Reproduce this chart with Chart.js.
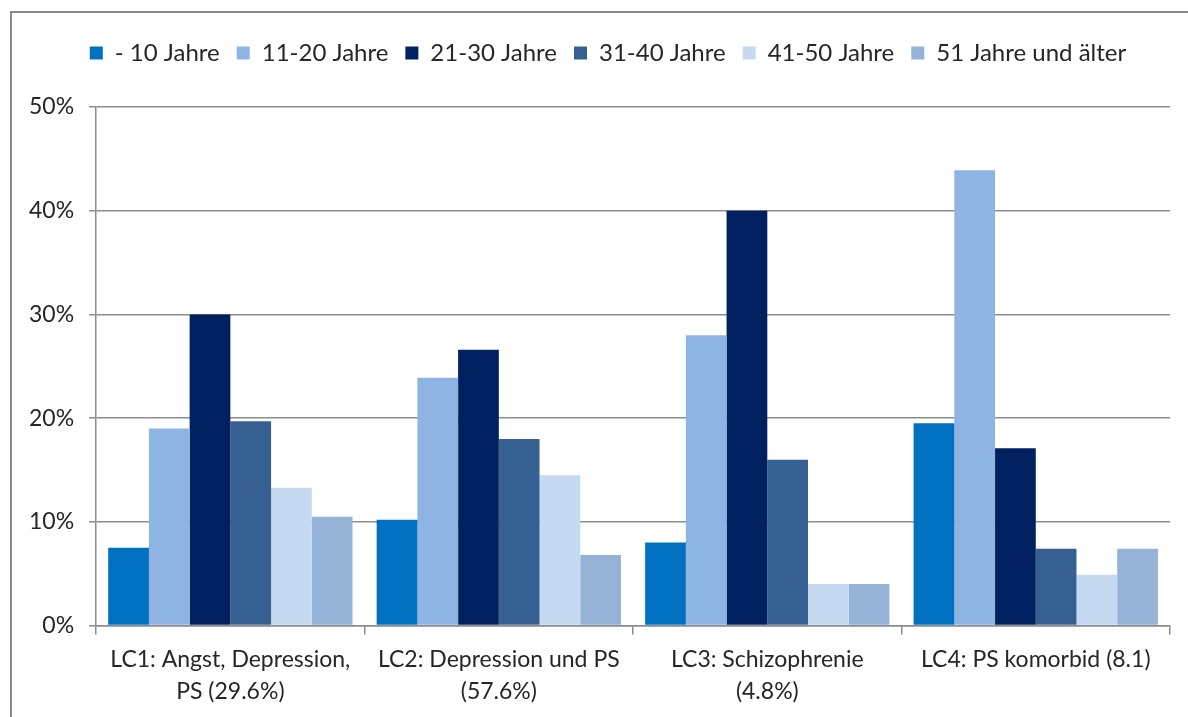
<!DOCTYPE html>
<html lang="de">
<head>
  <meta charset="UTF-8" />
  <title>Altersverteilung nach Klassen</title>
  <script src="https://cdn.jsdelivr.net/npm/chart.js"></script>
  <style>
    html, body { margin: 0; padding: 0; background: #fff; overflow: hidden; }
    #frame { position: absolute; left: 10px; top: 11px; width: 1200px; height: 720px; border: 2px solid #8a8a8a; pointer-events: none; }
    #wrap { position: absolute; left: 0; top: 0; width: 1188px; height: 717px; }
  </style>
</head>
<body>
  <div id="wrap"><canvas id="myChart" width="1188" height="717"></canvas></div>
  <div id="frame"></div>

  <script>
    const categories = [
      ['LC1: Angst, Depression,', 'PS (29.6%)'],
      ['LC2: Depression und PS', '(57.6%)'],
      ['LC3: Schizophrenie', '(4.8%)'],
      'LC4: PS komorbid (8.1)'
    ];
    const seriesNames = ['- 10 Jahre', '11-20 Jahre', '21-30 Jahre', '31-40 Jahre', '41-50 Jahre', '51 Jahre und älter'];
    const seriesColors = ['#0070C0', '#8DB4E2', '#002060', '#366092', '#C5D9F1', '#95B3D7'];

    // Prozentwerte je Altersgruppe (LC1..LC4)
    const bis10     = [7.5, 10.2, 8.0, 19.5];
    const j11bis20  = [19.0, 23.9, 28.0, 43.9];
    const j21bis30  = [30.0, 26.6, 40.0, 17.1];
    const j31bis40  = [19.7, 18.0, 16.0, 7.4];
    const j41bis50  = [13.3, 14.5, 4.0, 4.9];
    const ab51      = [10.5, 6.8, 4.0, 7.4];
    const seriesValues = [bis10, j11bis20, j21bis30, j31bis40, j41bis50, ab51];

    const fontFamily = 'Lato, "Liberation Sans", sans-serif';
    const textColor = '#262626';
    const gridColor = '#8c8c8c';

    const datasets = seriesNames.map((name, i) => ({
      label: name,
      data: seriesValues[i],
      backgroundColor: seriesColors[i],
      borderWidth: 0,
      categoryPercentage: 0.91,
      barPercentage: 1.0
    }));

    // mehr Abstand unter der Legende, Legende etwas nach rechts
    const legendTweak = {
      id: 'legendTweak',
      beforeInit(chart) {
        const lg = chart.legend;
        const fit = lg.fit;
        lg.fit = function () {
          fit.call(lg);
          this.height += 32;
        };
        const draw = lg.draw;
        lg.draw = function () {
          const ctx = chart.ctx;
          ctx.save();
          ctx.translate(16, 0);
          draw.apply(lg, arguments);
          ctx.restore();
        };
      }
    };

    new Chart(document.getElementById('myChart').getContext('2d'), {
      type: 'bar',
      data: { labels: categories, datasets: datasets },
      plugins: [legendTweak],
      options: {
        responsive: false,
        animation: false,
        layout: { padding: { left: 14, right: 18, top: 24, bottom: 0 } },
        plugins: {
          tooltip: { enabled: false },
          legend: {
            position: 'top',
            labels: {
              color: textColor,
              font: { family: fontFamily, size: 24 },
              boxWidth: 13,
              boxHeight: 13,
              padding: 17
            }
          }
        },
        scales: {
          x: {
            grid: {
              offset: true,
              drawOnChartArea: false,
              drawTicks: true,
              tickLength: 9,
              color: gridColor,
              lineWidth: 1.5
            },
            border: { color: gridColor, width: 1.5 },
            ticks: {
              color: textColor,
              font: { family: fontFamily, size: 23, lineHeight: 1.4 },
              padding: 9,
              maxRotation: 0,
              autoSkip: false
            }
          },
          y: {
            min: 0,
            max: 50,
            ticks: {
              stepSize: 10,
              color: textColor,
              font: { family: fontFamily, size: 23 },
              padding: 15,
              callback: v => v + '%'
            },
            grid: {
              color: gridColor,
              lineWidth: 1.5,
              drawTicks: true,
              tickLength: 7
            },
            border: { color: gridColor, width: 1.5 }
          }
        }
      }
    });
  </script>
</body>
</html>
